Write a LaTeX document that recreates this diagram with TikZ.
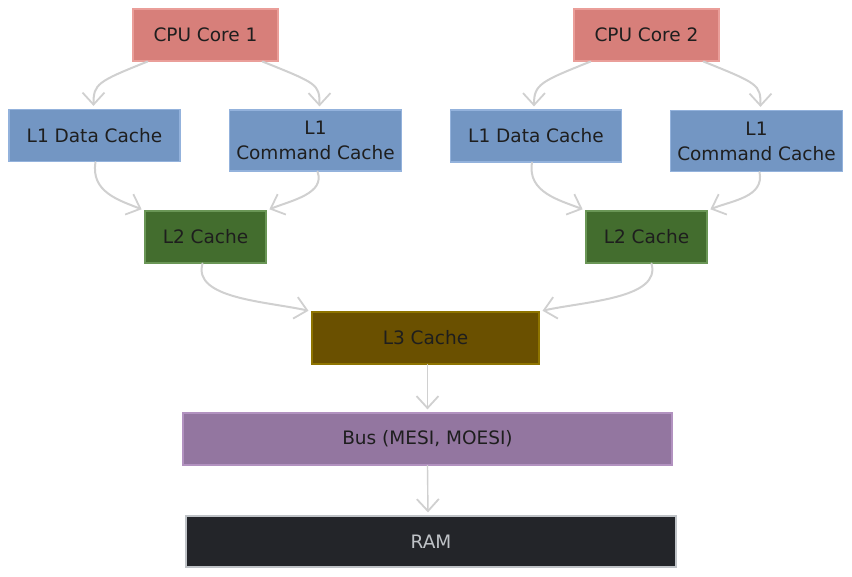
\documentclass[tikz,border=0pt]{standalone}
\usepackage{fontspec}
\setmainfont{DejaVu Sans}
\usetikzlibrary{arrows.meta}

\definecolor{cpufill}{HTML}{D77F7A}
\definecolor{cpuline}{HTML}{EA9E99}
\definecolor{lonefill}{HTML}{7396C3}
\definecolor{loneline}{HTML}{93B2DC}
\definecolor{ltwofill}{HTML}{436D2E}
\definecolor{ltwoline}{HTML}{6A9656}
\definecolor{lthreefill}{HTML}{6A5000}
\definecolor{lthreeline}{HTML}{8E7400}
\definecolor{busfill}{HTML}{9376A0}
\definecolor{busline}{HTML}{B292C0}
\definecolor{ramfill}{HTML}{232529}
\definecolor{ramline}{HTML}{BFC3C7}
\definecolor{inktext}{HTML}{1E1E1E}
\definecolor{wire}{HTML}{D0D0D0}

\begin{document}
\begin{tikzpicture}[x=1pt,y=-1pt,
  font=\fontsize{18.5}{25}\selectfont, text=inktext,
  box/.style={draw, line width=1.2pt, inner sep=0pt, align=center},
  cpubox/.style={box, fill=cpufill, draw=cpuline, minimum width=145pt, minimum height=52pt},
  lonebox/.style={box, fill=lonefill, draw=loneline, minimum width=171pt, minimum height=52pt},
  lcmdbox/.style={box, fill=lonefill, draw=loneline, minimum width=172pt, minimum height=61pt},
  ltwobox/.style={box, fill=ltwofill, draw=ltwoline, minimum width=121pt, minimum height=52pt},
  lthreebox/.style={box, fill=lthreefill, draw=lthreeline, minimum width=227pt, minimum height=52pt},
  busbox/.style={box, fill=busfill, draw=busline, minimum width=489pt, minimum height=52pt},
  rambox/.style={box, fill=ramfill, draw=ramline, minimum width=490pt, minimum height=51pt, text=ramline},
  wirearrow/.style={draw=wire, line width=2pt, line cap=round,
    -{Straight Barb[length=12pt, width=22pt, line width=1.8pt]}, shorten >=3pt},
  thinarrow/.style={wirearrow, line width=1.4pt}]
\useasboundingbox (0,0) rectangle (852,577);

% core 1
\node [cpubox] (cpuA) at (205.5,35) {CPU Core 1};
\node [lonebox] (ldataA) at (94.5,135.5) {L1 Data Cache};
\node [lcmdbox] (lcmdA) at (315.5,140.5) {L1\\Command Cache};
\node [ltwobox] (ltwoA) at (205.5,237) {L2 Cache};

% core 2
\node [cpubox] (cpuB) at (646.5,35) {CPU Core 2};
\node [lonebox] (ldataB) at (536,136) {L1 Data Cache};
\node [lcmdbox] (lcmdB) at (756.5,141) {L1\\Command Cache};
\node [ltwobox] (ltwoB) at (646.5,237) {L2 Cache};

% shared
\node [lthreebox] (lthree) at (425.5,338) {L3 Cache};
\node [busbox] (bus) at (427.5,439) {Bus (MESI, MOESI)};
\node [rambox] (ram) at (431,541.5) {RAM};

% arrows
\draw [wirearrow] ([xshift=15pt]cpuA.south west) .. controls +(-50,20) and +(0,-25) .. ([xshift=-1pt]ldataA.north);
\draw [wirearrow] ([xshift=-16pt]cpuA.south east) .. controls +(55,22) and +(0,-25) .. ([xshift=4pt]lcmdA.north);
\draw [wirearrow] ([xshift=1pt]ldataA.south) .. controls +(-5,30) and +(-25,-10) .. (ltwoA.north west);
\draw [wirearrow] ([xshift=2pt]lcmdA.south) .. controls +(8,22) and +(25,-10) .. (ltwoA.north east);
\draw [wirearrow] ([xshift=-3pt]ltwoA.south) .. controls +(-10,35) and +(-45,-10) .. (lthree.north west);

\draw [wirearrow] ([xshift=17pt]cpuB.south west) .. controls +(-50,20) and +(0,-25) .. ([xshift=-2pt]ldataB.north);
\draw [wirearrow] ([xshift=-16pt]cpuB.south east) .. controls +(55,22) and +(0,-25) .. ([xshift=4pt]lcmdB.north);
\draw [wirearrow] ([xshift=-4pt]ldataB.south) .. controls +(-5,30) and +(-25,-10) .. (ltwoB.north west);
\draw [wirearrow] ([xshift=3pt]lcmdB.south) .. controls +(5,25) and +(25,-10) .. (ltwoB.north east);
\draw [wirearrow] ([xshift=5pt]ltwoB.south) .. controls +(10,35) and +(45,-10) .. (lthree.north east);

\draw [thinarrow] ([xshift=2pt]lthree.south) -- ([xshift=0pt]bus.north);
\draw [thinarrow] (bus.south) -- ([xshift=-3pt]ram.north);
\end{tikzpicture}
\end{document}
